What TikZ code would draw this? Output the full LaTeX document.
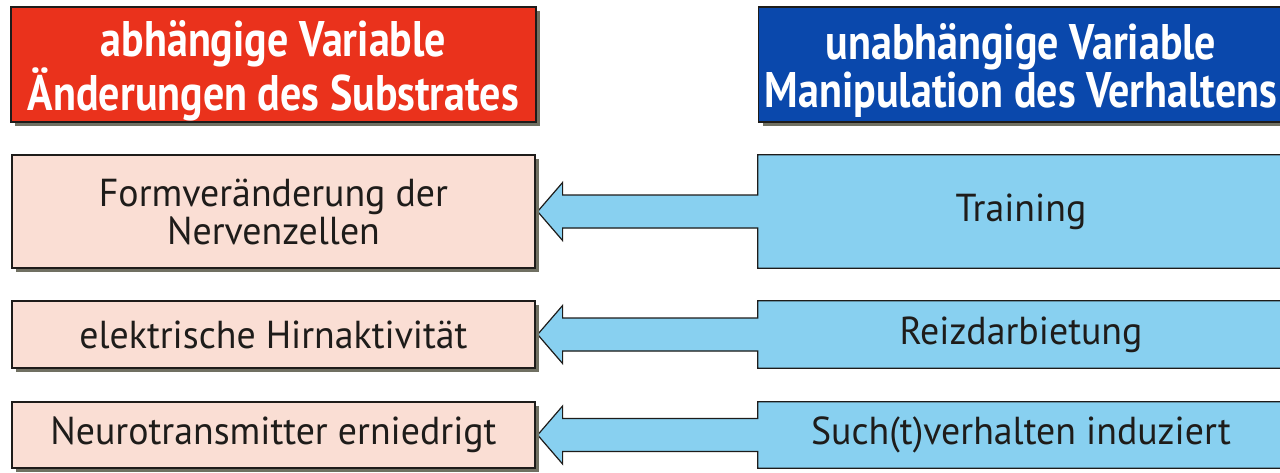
\documentclass[tikz,border=0pt]{standalone}
\usepackage{fontspec}
\usetikzlibrary{calc,shadows,backgrounds}
\newfontfamily\bodyfont[FakeStretch=0.97]{PT Sans}
\newfontfamily\headfont[FakeStretch=0.84]{PT Sans Bold}

\definecolor{headred}{RGB}{234,50,28}
\definecolor{headblue}{RGB}{10,72,172}
\definecolor{boxpink}{RGB}{250,222,212}
\definecolor{boxblue}{RGB}{136,208,240}
\definecolor{shadowc}{RGB}{112,112,98}
\definecolor{edgec}{RGB}{30,28,26}

\tikzset{
  shade box/.style={drop shadow={shadow xshift=4pt,shadow yshift=-4pt,fill=shadowc,opacity=1}},
  headbox/.style={shade box,draw=edgec,line width=1.2pt,inner sep=0pt,
    minimum width=525pt,minimum height=115pt},
  headtext/.style={inner sep=0pt,align=center,text=white,
    font=\headfont\fontsize{50}{40}\selectfont},
  leftbox/.style={shade box,draw=edgec,line width=1.2pt,fill=boxpink,inner sep=0pt,align=center,
    text=edgec,font=\bodyfont\fontsize{39}{38}\selectfont,minimum width=523pt},
  rightbox/.style={inner sep=0pt,align=center,text=edgec,
    font=\bodyfont\fontsize{39}{38}\selectfont,minimum width=526pt},
  linkfill/.style={fill=boxblue},
  linkedge/.style={draw=edgec,line width=1.2pt,line join=miter},
}

\begin{document}
\begin{tikzpicture}[x=1pt,y=-1pt]
\useasboundingbox (0,0) rectangle (1280,472);
\clip (0,0) rectangle (1280,472);

% column headers
\node[headbox,fill=headred]  (hl) at (273.5,64.5) {};
\node[headbox,fill=headblue] (hr) at (1021,64.5) {};
\node[headtext] (hlt) at ($(hl.center)+(0,6)$) {abhängige Variable\\Änderungen des Substrates};
\node[headtext] (hrt) at ($(hr.center)+(0,6)$) {unabhängige Variable\\Manipulation des Verhaltens};

% dependent variables (left)
\node[leftbox,minimum height=113pt] (l1) at (273.5,211.5) {Formveränderung der\\Nervenzellen};
\node[leftbox,minimum height=67pt]  (l2) at (273.5,334.5) {elektrische Hirnaktivität};
\node[leftbox,minimum height=66pt]  (l3) at (273.5,435)   {Neurotransmitter erniedrigt};

% independent variables (right), outlined together with their arrows below
\node[rightbox,minimum height=113pt] (r1) at (1021,211.5) {Training};
\node[rightbox,minimum height=67pt]  (r2) at (1021,334.5) {Reizdarbietung};
\node[rightbox,minimum height=66pt]  (r3) at (1021,435)   {Such(t)verhalten induziert};

\begin{scope}[on background layer]
  \foreach \r/\l in {r1/l1,r2/l2,r3/l3}{
    % shadow of box and arrow
    \fill[shadowc,shift={(4,4)}]
      ($(\r.north east)+(30,0)$) -- (\r.north west) -- ($(\r.west)+(0,-16.5)$)
      -- ($(\l.east)+(27,-16.5)$) -- ($(\l.east)+(27,-29)$) -- ($(\l.east)+(2,0)$)
      -- ($(\l.east)+(27,29)$) -- ($(\l.east)+(27,16.5)$) -- ($(\r.west)+(0,16.5)$)
      -- (\r.south west) -- ($(\r.south east)+(30,0)$) -- cycle;
    % box and arrow as one outline, running off the right edge
    \filldraw[linkfill,linkedge]
      ($(\r.north east)+(30,0)$) -- (\r.north west) -- ($(\r.west)+(0,-16.5)$)
      -- ($(\l.east)+(27,-16.5)$) -- ($(\l.east)+(27,-29)$) -- ($(\l.east)+(2,0)$)
      -- ($(\l.east)+(27,29)$) -- ($(\l.east)+(27,16.5)$) -- ($(\r.west)+(0,16.5)$)
      -- (\r.south west) -- ($(\r.south east)+(30,0)$) -- cycle;
  }
\end{scope}
\end{tikzpicture}
\end{document}
